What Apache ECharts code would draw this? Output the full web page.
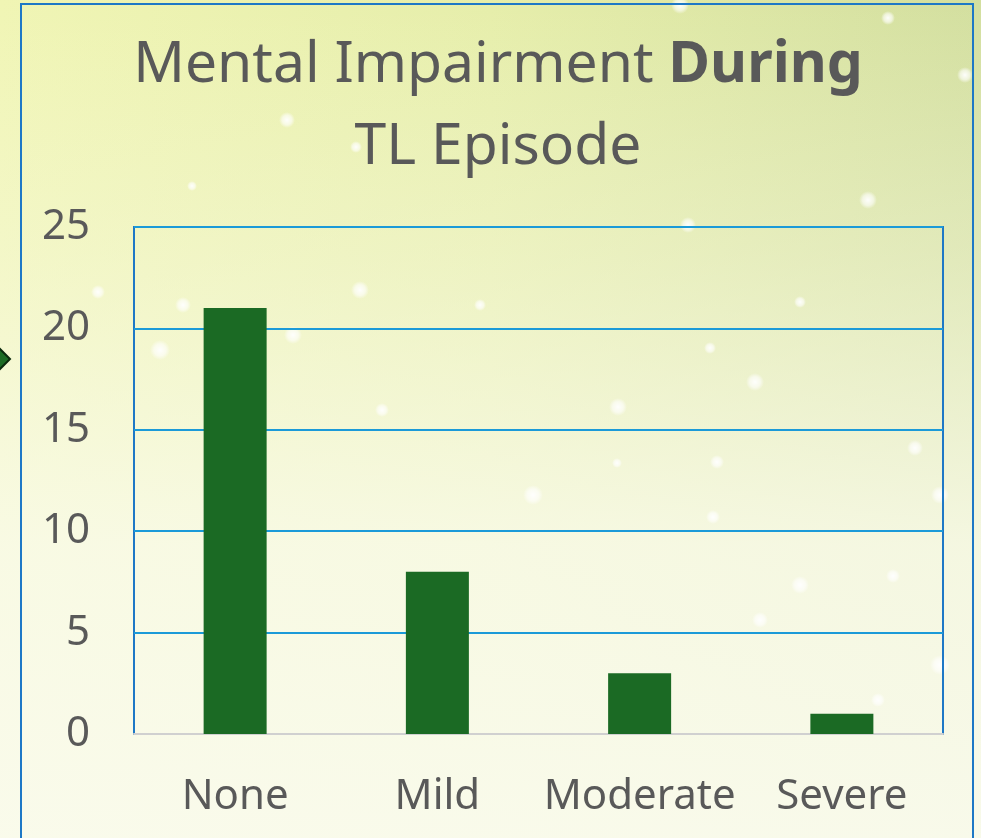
<!DOCTYPE html>
<html>
<head>
<meta charset="utf-8">
<script src="https://cdn.jsdelivr.net/npm/echarts@6/dist/echarts.min.js"></script>
<style>
  html, body { margin: 0; padding: 0; background: #f3f6d6; }
  #chart { width: 981px; height: 838px; }
</style>
</head>
<body>
<div id="chart"></div>
<script>
const categories = ['None', 'Mild', 'Moderate', 'Severe'];
const counts = [21, 8, 3, 1];
const yTicks = { min: 0, max: 25, interval: 5 };
const titleLine1 = 'Mental Impairment ';
const titleBold = 'During';
const titleLine2 = 'TL Episode';

// decorative background glow dots [x, y, r]
const glowDots = [
  [680, 5, 9], [888, 18, 7], [965, 75, 8], [287, 120, 8], [356, 147, 6], [868, 200, 9],
  [688, 225, 8], [360, 290, 9], [480, 305, 6], [800, 302, 6], [183, 305, 8], [710, 348, 6],
  [755, 382, 9], [618, 407, 9], [382, 410, 7], [617, 463, 5], [717, 462, 7], [915, 448, 8],
  [533, 495, 10], [713, 517, 7], [940, 495, 9], [800, 585, 9], [893, 576, 7], [760, 620, 8],
  [878, 700, 7], [940, 665, 10], [192, 186, 5], [98, 292, 7], [293, 335, 9], [160, 350, 10]
];

const chart = echarts.init(document.getElementById('chart'), null, { renderer: 'canvas' });

const graphics = [
  {
    type: 'rect', z: -10, silent: true,
    shape: { x: 0, y: 0, width: 981, height: 838 },
    style: {
      fill: new echarts.graphic.LinearGradient(0, 0, 1, 0, [
        { offset: 0, color: '#f0f5b4' },
        { offset: 0.5, color: '#e6eeaa' },
        { offset: 1, color: '#d3df9f' }
      ])
    }
  },
  {
    type: 'rect', z: -9, silent: true,
    shape: { x: 0, y: 0, width: 981, height: 838 },
    style: {
      fill: new echarts.graphic.LinearGradient(0, 0, 0, 1, [
        { offset: 0, color: 'rgba(250,251,236,0)' },
        { offset: 0.3, color: 'rgba(250,251,236,0.35)' },
        { offset: 0.65, color: 'rgba(250,251,236,0.85)' },
        { offset: 1, color: 'rgba(250,251,238,0.95)' }
      ])
    }
  }
];
glowDots.forEach(function (d) {
  graphics.push({
    type: 'circle', z: -8, silent: true,
    shape: { cx: d[0], cy: d[1], r: d[2] },
    style: {
      fill: new echarts.graphic.RadialGradient(0.5, 0.5, 0.5, [
        { offset: 0, color: 'rgba(255,255,255,0.95)' },
        { offset: 0.6, color: 'rgba(255,255,255,0.6)' },
        { offset: 1, color: 'rgba(255,255,255,0)' }
      ])
    }
  });
});
graphics.push(
  {
    type: 'rect', z: 5, silent: true,
    shape: { x: 21, y: 4, width: 952, height: 860 },
    style: { fill: 'none', stroke: '#1e78c6', lineWidth: 2 }
  },
  {
    type: 'polygon', z: 5, silent: true,
    shape: { points: [[-10, 359], [0, 349], [10, 359], [0, 369]] },
    style: { fill: '#1c6b24', stroke: '#0b2a0d', lineWidth: 2 }
  },
  {
    type: 'text', z: 6, silent: true,
    x: 498, y: 25,
    style: {
      text: '{a|' + titleLine1 + '}{b|' + titleBold + '}\n{a|' + titleLine2 + '}',
      align: 'center',
      verticalAlign: 'top',
      fill: '#595959',
      rich: {
        a: { fontFamily: 'Noto Sans', fontSize: 57, fill: '#595959', lineHeight: 82 },
        b: { fontFamily: 'Noto Sans', fontSize: 57, fontWeight: 'bold', fill: '#595959', lineHeight: 82 }
      }
    }
  }
);

chart.setOption({
  animation: false,
  backgroundColor: 'transparent',
  graphic: graphics,
  grid: {
    left: 134, right: 38, top: 227, bottom: 104,
    show: true, borderColor: '#1e78c6', borderWidth: 2, backgroundColor: 'transparent'
  },
  xAxis: {
    type: 'category',
    data: categories,
    axisLine: { show: true, lineStyle: { color: '#d0d0d0', width: 2 } },
    axisTick: { show: false },
    axisLabel: { color: '#595959', fontFamily: 'Noto Sans', fontSize: 42, margin: 42, interval: 0 }
  },
  yAxis: {
    type: 'value',
    min: yTicks.min, max: yTicks.max, interval: yTicks.interval,
    axisLine: { show: false },
    axisTick: { show: false },
    splitLine: { show: true, lineStyle: { color: '#1b9ad8', width: 2 } },
    axisLabel: { color: '#595959', fontFamily: 'Noto Sans', fontSize: 42, margin: 44 }
  },
  series: [{
    type: 'bar',
    data: counts,
    barWidth: 63,
    itemStyle: { color: '#1b6a24' }
  }]
});
</script>
</body>
</html>
